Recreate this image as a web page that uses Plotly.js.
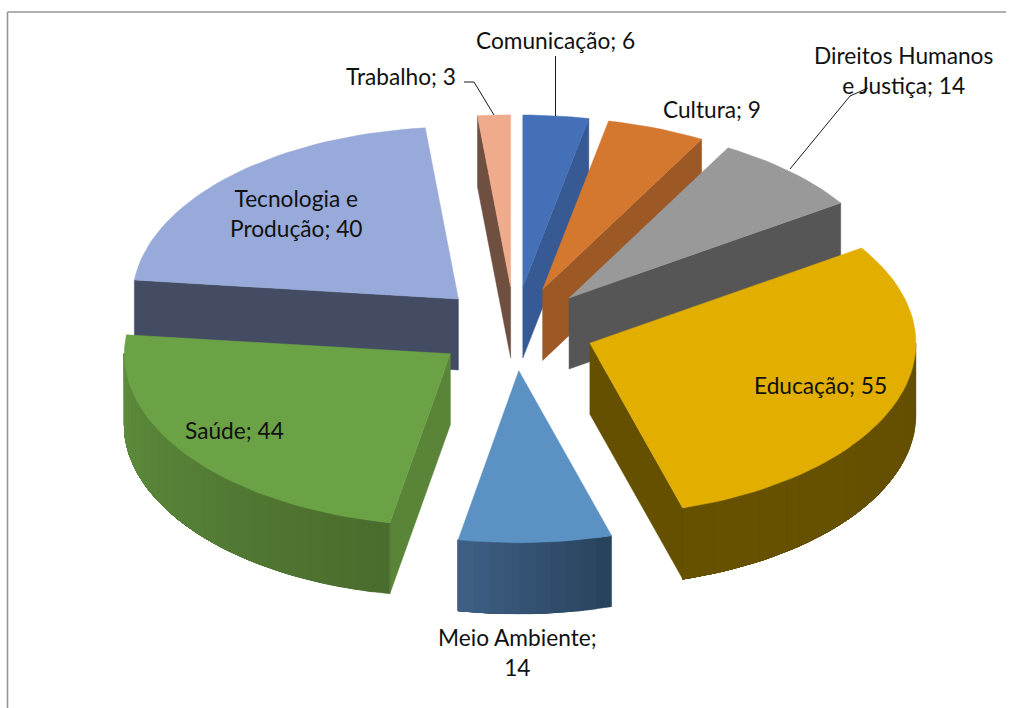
<!DOCTYPE html>
<html><head><meta charset="utf-8">
<script src="https://cdn.plot.ly/plotly-3.0.1.min.js"></script>
<style>html,body{margin:0;padding:0;background:#fff}#c{width:1011px;height:708px}</style>
</head><body><div id="c"></div>
<script>
const categories = ['Comunicação','Cultura','Direitos Humanos e Justiça','Educação','Meio Ambiente','Saúde','Tecnologia e Produção','Trabalho'];
const values = [6,9,14,55,14,44,40,3];
const labelLines = ['Comunicação; 6','Cultura; 9','Direitos Humanos<br>e Justiça; 14','Educação; 55','Meio Ambiente;<br>14','Saúde; 44','Tecnologia e<br>Produção; 40','Trabalho; 3'];
const topColors = ['#4470b8','#d47830','#999999','#e2ae00','#5b92c3','#6ba246','#98aad9','#f0ab8d'];
const sideColors = ['#385a94','#9c5926','#565656','#655000','#000000','#5a8539','#434c63','#6e4f40'];
const wallDark = ['#385a94','#9c5926','#565656','#635000','#27425b','#4a6c2d','#434c63','#6e4f40'];
const wallLight = ['#385a94','#9c5926','#565656','#665100','#3f6186','#5e8e3d','#434c63','#6e4f40'];
const labelX = [555.5,711.5,903.5,820.5,517.5,234,296,400.5];
const labelY = [40,109,70,385.5,652.5,430.5,213.5,76.5];

const CX=514.7, CY=328.8, RX=326, RY=172, EX=80, EY=42, DEPTH=71;
const rad=d=>d*Math.PI/180;
const total=values.reduce((a,b)=>a+b,0);
let cum=0;
const slices=values.map((v,i)=>{
  const a0=cum/total*360; cum+=v; const a1=cum/total*360; const mid=(a0+a1)/2;
  return {i,a0,a1,mid,ax:CX+EX*Math.sin(rad(mid)),ay:CY-EY*Math.cos(rad(mid))};
});
const pt=(s,a)=>[s.ax+RX*Math.sin(rad(a)),s.ay-RY*Math.cos(rad(a))];
const hex=c=>[1,3,5].map(k=>parseInt(c.substr(k,2),16));
const mix=(a,b,t)=>{const A=hex(a),B=hex(b);return 'rgb('+A.map((v,k)=>Math.round(v+(B[k]-v)*t)).join(',')+')';};
const traces=[];
function poly(pts,color){
  traces.push({type:'scatter',mode:'lines',x:pts.map(p=>p[0]).concat(pts[0][0]),y:pts.map(p=>p[1]).concat(pts[0][1]),
    fill:'toself',fillcolor:color,line:{color:color,width:0.5},hoverinfo:'skip',showlegend:false});
}
function arc(s,a,b,n){const o=[];for(let k=0;k<=n;k++)o.push(pt(s,a+(b-a)*k/n));return o;}
// painter's order, far slices first
const order=[6,7,0,1,2,3,5,4];
order.forEach(i=>{
  const s=slices[i];
  const apex=[s.ax,s.ay];
  const drop=p=>[p[0],p[1]+DEPTH];
  // radial walls
  if(Math.sin(rad(s.a0))<0){const e=pt(s,s.a0);poly([apex,e,drop(e),drop(apex)],sideColors[i]);}
  if(Math.sin(rad(s.a1))>0){const e=pt(s,s.a1);poly([apex,e,drop(e),drop(apex)],sideColors[i]);}
  // outer wall: overlapping strips, each reaching the far end so no seams appear
  const w0=Math.max(s.a0,90), w1=Math.min(s.a1,270);
  if(w1>w0){
    const same=wallDark[i]===wallLight[i];
    const n=same?1:Math.ceil((w1-w0)/3);
    for(let k=0;k<n;k++){
      const a=w0+(w1-w0)*k/n;
      const t=(k+0.5)/n;
      const strip=arc(s,a,w1,Math.max(2,Math.ceil((w1-a)/2)));
      poly(strip.concat(strip.slice().reverse().map(drop)),mix(wallDark[i],wallLight[i],t));
    }
  }
  // top face
  const n=Math.max(8,Math.ceil((s.a1-s.a0)/2));
  poly([apex].concat(arc(s,s.a0,s.a1,n)),topColors[i]);
});
// leader lines
const leader=(xs,ys)=>traces.push({type:'scatter',mode:'lines',x:xs,y:ys,line:{color:'#1a1a1a',width:1},hoverinfo:'skip',showlegend:false});
leader([555.5,555.5],[56,116]);
leader([464,474,494],[82,82,115]);
leader([790,850,868],[169,96,88]);

const annotations=categories.map((c,i)=>({x:labelX[i],y:labelY[i],xref:'x',yref:'y',text:labelLines[i],showarrow:false,
  xanchor:'center',yanchor:'middle',align:'center',font:{family:'Lato, "Noto Sans", sans-serif',size:22.7,color:'#111'}}));

const layout={width:1011,height:708,margin:{l:0,r:0,t:0,b:0},paper_bgcolor:'#fff',plot_bgcolor:'#fff',showlegend:false,
  xaxis:{range:[0,1011],visible:false,fixedrange:true},
  yaxis:{range:[708,0],visible:false,fixedrange:true},
  annotations,
  shapes:[
    {type:'line',xref:'x',yref:'y',x0:7.5,x1:1006,y0:12,y1:12,line:{color:'#969696',width:1.6}},
    {type:'line',xref:'x',yref:'y',x0:7.5,x1:7.5,y0:12,y1:708,line:{color:'#969696',width:1.6}}
  ]};
Plotly.newPlot('c',traces,layout,{displayModeBar:false,staticPlot:true});
</script></body></html>
